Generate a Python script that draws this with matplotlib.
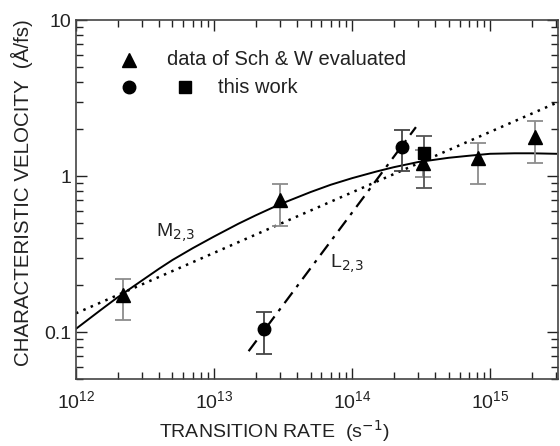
import numpy as np
import matplotlib
matplotlib.use("Agg")
import matplotlib.pyplot as plt

plt.rcParams['font.family'] = ['Liberation Sans', 'DejaVu Sans']

# Sch & W data (triangles)
tri_x = [2.2e12, 3.0e13, 3.25e14, 8.1e14, 2.1e15]
tri_y = [0.172, 0.70, 1.21, 1.30, 1.78]
tri_lo = [0.120, 0.48, 0.98, 0.89, 1.21]
tri_hi = [0.220, 0.89, 1.47, 1.63, 2.25]

# this work (circles and square)
circ_x = [2.3e13, 2.3e14]
circ_y = [0.104, 1.53]
circ_lo = [0.072, 1.08]
circ_hi = [0.135, 1.97]

sq_x = [3.3e14]
sq_y = [1.41]
sq_lo = [0.84]
sq_hi = [1.80]

# M2,3 fit curve (solid)
m_x = [1e12, 1.5e12, 2e12, 3e12, 4e12, 5e12, 7e12, 1e13, 1.5e13, 2e13, 3e13,
       5e13, 7e13, 1e14, 1.5e14, 2e14, 3e14, 5e14, 7e14, 1e15, 1.5e15, 2e15, 3e15]
m_y = [0.105, 0.138, 0.167, 0.214, 0.255, 0.29, 0.345, 0.41, 0.495, 0.56, 0.66,
       0.79, 0.88, 0.97, 1.07, 1.14, 1.23, 1.31, 1.35, 1.39, 1.40, 1.40, 1.39]

# dotted line
dot_x = [1e12, 3e15]
dot_y = [0.132, 2.94]

# L2,3 dash-dot line
l_x = [1.78e13, 2.9e14]
l_y = [0.0755, 2.06]

fig = plt.figure(figsize=(5.6, 4.46), dpi=100)
ax = fig.add_axes([0.1357, 0.150, 0.8607, 0.805])

txt = '#222222'

ax.plot(m_x, m_y, color='black', lw=1.4)
ax.plot(dot_x, dot_y, color='black', lw=1.8, linestyle=(0, (1, 2.2)))
ax.plot(l_x, l_y, color='black', lw=1.6, linestyle=(0, (6, 3, 1.5, 3)))

def ebar(x, y, lo, hi, marker, ms, ec):
    y = np.array(y)
    yerr = [y - np.array(lo), np.array(hi) - y]
    ax.errorbar(x, y, yerr=yerr, fmt=marker, color='black', ms=ms,
                ecolor=ec, elinewidth=1.3, capsize=5.5, capthick=1.3)

ebar(tri_x, tri_y, tri_lo, tri_hi, '^', 10, '#8c8c8c')
ebar(circ_x, circ_y, circ_lo, circ_hi, 'o', 9, '#444444')
ebar(sq_x, sq_y, sq_lo, sq_hi, 's', 8, '#555555')

ax.set_xscale('log')
ax.set_yscale('log')
ax.set_xlim(1e12, 3.1e15)
ax.set_ylim(0.05, 10)

ax.set_yticks([0.1, 1, 10])
ax.set_yticklabels(['0.1', '1', '10'])
ax.tick_params(which='both', direction='in', top=True, right=True,
               labelsize=14, colors=txt, labelcolor=txt)
ax.tick_params(which='major', length=8, width=1.0)
ax.tick_params(which='minor', length=5, width=1.0)
ax.tick_params(axis='x', pad=8)
for s in ax.spines.values():
    s.set_color('#444444')
    s.set_linewidth(1.2)

ax.set_xlabel('TRANSITION RATE  (s$^{-1}$)', fontsize=14, color=txt)
ax.xaxis.set_label_coords(0.411, -0.108)
ax.set_ylabel('CHARACTERISTIC VELOCITY  (Å/fs)', fontsize=14.8, color=txt)
ax.yaxis.set_label_coords(-0.09, 0.52)

ax.text(3.8e12, 0.41, 'M$_{2{,}3}$', fontsize=14, color=txt)
ax.text(6.9e13, 0.26, 'L$_{2{,}3}$', fontsize=14, color=txt)

# legend
ax.plot([0.110], [0.889], '^', color='black', ms=10, transform=ax.transAxes)
ax.text(0.189, 0.889, 'data of Sch & W evaluated', transform=ax.transAxes,
        fontsize=14.5, color=txt, va='center')
ax.plot([0.110], [0.813], 'o', color='black', ms=9, transform=ax.transAxes)
ax.plot([0.226], [0.813], 's', color='black', ms=8, transform=ax.transAxes)
ax.text(0.295, 0.813, 'this work', transform=ax.transAxes,
        fontsize=14.5, color=txt, va='center')

fig.savefig('out.png', dpi=100)
